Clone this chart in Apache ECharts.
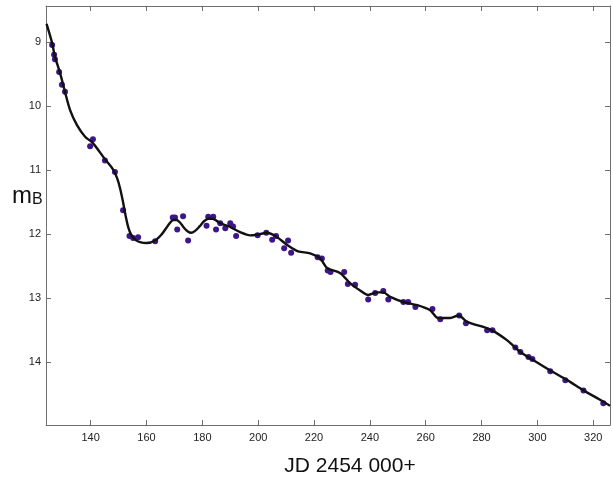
<!DOCTYPE html>
<html>
<head>
<meta charset="utf-8">
<script src="https://cdn.jsdelivr.net/npm/echarts@6/dist/echarts.min.js"></script>
<style>
  html, body { margin: 0; padding: 0; background: #fff; }
  #light_curve { width: 613px; height: 481px; }
</style>
</head>
<body>
<div id="light_curve"></div>
<script>
// smoothed light curve (JD - 2454000, B magnitude)
var curveX = [124.2, 126.2, 127.2, 129.0, 130.8, 132.6, 135.1, 138.0, 140.8, 145.1,
    148.0, 149.5, 150.5, 151.5, 152.5, 153.5, 154.5, 156.0, 158.0, 160.0,
    163.1, 165.5, 167.0, 168.3, 169.6, 170.8, 172.0, 173.4, 174.8, 176.0,
    177.4, 179.0, 180.6, 182.2, 183.6, 185.0, 186.4, 188.2, 190.0, 193.5,
    197.1, 200.7, 203.2, 206.8, 210.4, 214.3, 218.6, 222.2, 224.7, 229.4,
    233.0, 236.5, 239.4, 242.6, 244.8, 247.3, 252.0, 257.0, 261.6, 264.5,
    268.8, 271.7, 274.9, 282.1, 284.9, 289.2, 293.9, 298.6, 304.6, 310.7,
    316.5, 322.6, 326.0];
var curveMag = [8.72, 9.02, 9.23, 9.48, 9.78, 10.06, 10.30, 10.48, 10.58, 10.83,
    10.99, 11.13, 11.28, 11.48, 11.71, 11.90, 12.01, 12.09, 12.13, 12.14,
    12.10, 12.00, 11.91, 11.83, 11.78, 11.78, 11.82, 11.90, 11.96, 11.98,
    11.95, 11.88, 11.80, 11.76, 11.76, 11.79, 11.83, 11.86, 11.89, 11.97,
    12.02, 12.00, 11.98, 12.05, 12.17, 12.27, 12.30, 12.38, 12.53, 12.61,
    12.77, 12.88, 12.95, 12.91, 12.91, 12.98, 13.06, 13.11, 13.19, 13.31,
    13.31, 13.27, 13.37, 13.47, 13.53, 13.66, 13.84, 13.97, 14.13, 14.28,
    14.44, 14.59, 14.68];

// observed points
var obsX = [126.2, 126.9, 127.2, 128.7, 129.7, 130.8, 139.8, 140.8, 145.1, 148.7,
    151.6, 153.9, 155.2, 157.0, 163.1, 169.4, 170.2, 171.0, 173.1, 174.9,
    181.5, 182.1, 183.9, 184.9, 186.4, 188.2, 190.0, 191.0, 192.1, 199.8,
    202.9, 205.0, 206.4, 209.3, 210.7, 211.8, 221.3, 222.8, 224.9, 225.9,
    230.8, 232.1, 234.7, 239.4, 241.9, 244.8, 246.6, 252.0, 253.7, 256.3,
    262.4, 265.2, 272.0, 274.4, 282.0, 283.9, 292.1, 293.9, 296.8, 298.2,
    304.6, 310.0, 316.5, 323.6];
var obsMag = [9.05, 9.20, 9.27, 9.47, 9.67, 9.78, 10.63, 10.52, 10.85, 11.03,
    11.63, 12.03, 12.06, 12.05, 12.11, 11.74, 11.74, 11.93, 11.72, 12.10,
    11.87, 11.73, 11.73, 11.93, 11.83, 11.91, 11.83, 11.88, 12.03, 12.02,
    11.98, 12.09, 12.03, 12.22, 12.10, 12.29, 12.36, 12.38, 12.57, 12.59,
    12.59, 12.78, 12.79, 13.02, 12.92, 12.89, 13.02, 13.06, 13.06, 13.14,
    13.17, 13.33, 13.27, 13.39, 13.50, 13.50, 13.77, 13.84, 13.92, 13.95,
    14.14, 14.28, 14.44, 14.64];

// tiny extend so the helpers read like the usual jquery style
var $ = { extend: function (a, b) { for (var k in b) { a[k] = b[k]; } return a; } };

var chart = echarts.init(document.getElementById("light_curve"));

var axisGray = "#6f6f6f";
var labelStyle = {
    fontFamily: "Liberation Sans, Arial, sans-serif",
    fontSize: 11,
    color: "#222"
};

function makeX(pos, showLabel) {
    return {
        type: "value",
        position: pos,
        min: 124,
        max: 326,
        splitNumber: 10,
        axisLine: { show: true, onZero: false, lineStyle: { color: axisGray, width: 1 } },
        axisTick: { show: true, inside: true, length: 5, lineStyle: { color: axisGray } },
        axisLabel: $.extend({
            show: showLabel,
            margin: 7,
            showMinLabel: false,
            showMaxLabel: false
        }, labelStyle),
        splitLine: { show: false }
    };
}

function makeY(pos, showLabel) {
    return {
        type: "value",
        position: pos,
        inverse: true,
        min: 8.44,
        max: 14.98,
        splitNumber: 6,
        axisLine: { show: true, onZero: false, lineStyle: { color: axisGray, width: 1 } },
        axisTick: { show: true, inside: true, length: 5, lineStyle: { color: axisGray } },
        axisLabel: $.extend({
            show: showLabel,
            margin: 5,
            showMinLabel: false,
            showMaxLabel: false
        }, labelStyle),
        splitLine: { show: false }
    };
}

var option = {
    animation: false,
    grid: { left: 46, right: 3, top: 6, bottom: 56, containLabel: false },
    xAxis: [makeX("bottom", true), makeX("top", false)],
    yAxis: [makeY("left", true), makeY("right", false)],
    graphic: [
        {
            type: "text",
            left: 12,
            top: 184,
            style: {
                text: "{m|m}{b|B}",
                rich: {
                    m: { fontFamily: "Liberation Sans, Arial, sans-serif", fontSize: 24, fill: "#111", verticalAlign: "bottom" },
                    b: { fontFamily: "Liberation Sans, Arial, sans-serif", fontSize: 16, fill: "#111", padding: [10, 0, 0, 0], verticalAlign: "bottom" }
                }
            }
        },
        {
            type: "text",
            x: 350,
            y: 466,
            style: {
                text: "JD 2454 000+",
                fontFamily: "Liberation Sans, Arial, sans-serif",
                fontSize: 21,
                fill: "#111",
                align: "center",
                verticalAlign: "middle"
            }
        }
    ],
    series: [
        {
            name: "obs",
            type: "scatter",
            symbolSize: 6,
            z: 2,
            itemStyle: { color: "#3d1688", opacity: 1 },
            data: obsX.map(function (x, i) { return [x, obsMag[i]]; })
        },
        {
            name: "fit",
            type: "line",
            smooth: 0.3,
            showSymbol: false,
            z: 3,
            lineStyle: { color: "#111", width: 2.4 },
            data: curveX.map(function (x, i) { return [x, curveMag[i]]; })
        }
    ]
};

chart.setOption(option);
</script>
</body>
</html>
